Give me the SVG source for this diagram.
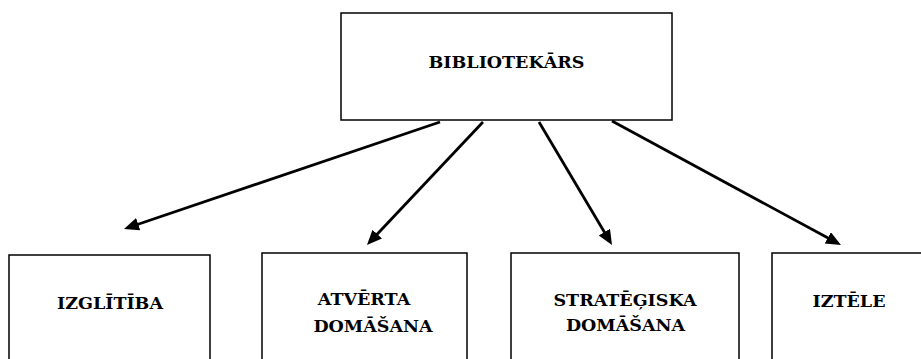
<svg xmlns="http://www.w3.org/2000/svg" width="921" height="359" viewBox="0 0 921 359">
<style>
.box{fill:#fff;stroke:#000;stroke-width:1.5}
.lbl{font-family:"DejaVu Serif","Liberation Serif",serif;font-weight:bold;font-size:17.5px;fill:#000;text-anchor:middle}
.conn{stroke:#000;stroke-width:2.8;fill:none;marker-end:url(#ah)}
</style>
<defs>
<marker id="ah" markerUnits="userSpaceOnUse" markerWidth="16" markerHeight="14" refX="4" refY="6.5" orient="auto">
<path d="M0,0 L15,6.5 L0,13 z" fill="#000"/>
</marker>
</defs>
<rect width="921" height="359" fill="#fff"/>
<g id="connectors">
<line class="conn" x1="440" y1="122" x2="134.4" y2="225.5"/>
<line class="conn" x1="483" y1="122" x2="374.5" y2="237.0"/>
<line class="conn" x1="539" y1="122" x2="606.4" y2="235.5"/>
<line class="conn" x1="612" y1="121" x2="831.3" y2="239.8"/>
</g>
<g id="bibliotekars">
<rect class="box" x="341" y="13" width="331" height="107"/>
<text class="lbl" x="506.5" y="68">BIBLIOTEKĀRS</text>
</g>
<g id="izglitiba">
<rect class="box" x="9" y="255" width="201" height="130"/>
<text class="lbl" x="110" y="309">IZGLĪTĪBA</text>
</g>
<g id="atverta">
<rect class="box" x="262" y="253" width="205" height="130"/>
<text class="lbl" x="364" y="305">ATVĒRTA</text>
<text class="lbl" x="373" y="332">DOMĀŠANA</text>
</g>
<g id="strategiska">
<rect class="box" x="511" y="253" width="228" height="130"/>
<text class="lbl" x="625" y="306">STRATĒĢISKA</text>
<text class="lbl" x="625.5" y="331">DOMĀŠANA</text>
</g>
<g id="iztele">
<rect class="box" x="772" y="253" width="160" height="130"/>
<text class="lbl" x="849" y="307">IZTĒLE</text>
</g>
</svg>
